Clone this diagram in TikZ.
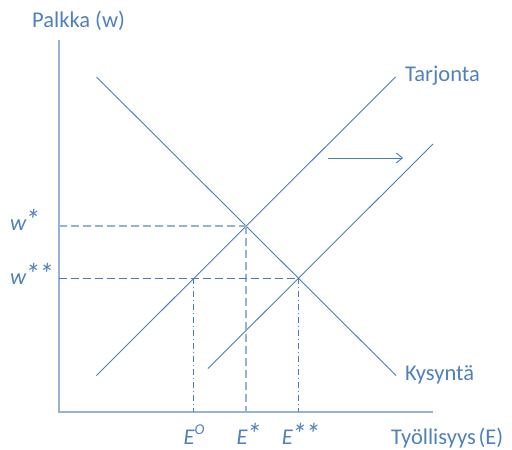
\documentclass[tikz,border=0pt]{standalone}
\usepackage{fontspec}
\setmainfont{Carlito}
\usetikzlibrary{arrows.meta}
\definecolor{txtblue}{HTML}{4F81BD}
\definecolor{lineblue}{HTML}{4A7EBB}
\definecolor{axisblue}{HTML}{95B3D7}
\newcommand{\bigast}{\kern-0.06em{\fontsize{30}{30}\selectfont *}}
\tikzset{
  curve/.style={draw=lineblue, line width=0.9pt},
  axisline/.style={draw=axisblue, line width=1.6pt},
  lightdash/.style={draw=axisblue, line width=1.3pt, dash pattern=on 8pt off 4pt},
  darkdash/.style={draw=lineblue, line width=0.9pt, dash pattern=on 8pt off 4pt},
  dashdot/.style={draw=lineblue, line width=0.7pt, dash pattern=on 6pt off 3pt on 1pt off 3pt},
  lbl/.style={text=txtblue, font=\fontsize{22.5}{26}\selectfont, inner sep=0pt},
  ilbl/.style={text=txtblue, font=\fontsize{22.5}{26}\selectfont\itshape, inner sep=0pt}
}
\begin{document}
\begin{tikzpicture}[x=1pt, y=-1pt]
\useasboundingbox (0,0) rectangle (512,450);
% axes
\coordinate (O) at (59,412);
\coordinate (ytop) at (59,40);
\coordinate (xend) at (433,412);
\draw[axisline] (ytop) -- (O) -- (xend);
% curves
\coordinate (s1a) at (96.5,375.5);
\coordinate (s1b) at (395.5,77);
\coordinate (da) at (96.5,77);
\coordinate (db) at (396,375.5);
\coordinate (s2a) at (208,368.5);
\coordinate (s2b) at (433,144);
\draw[curve] (s1a) -- (s1b);
\draw[curve] (da) -- (db);
\draw[curve] (s2a) -- (s2b);
% arrow
\coordinate (ara) at (328,158);
\coordinate (arb) at (403,158);
\draw[curve, -{Straight Barb[length=6pt,width=10pt]}] (ara) -- (arb);
% equilibrium points
\coordinate (e1) at (246,226);
\coordinate (e2) at (298,278);
\coordinate (e0) at (193.5,278);
\coordinate (y1) at (59,226);
\coordinate (y2) at (59,278);
\coordinate (x1) at (246,412);
\coordinate (x2) at (298,412);
\coordinate (x0) at (193.5,412);
\draw[lightdash] (y1) -- (e1);
\draw[lightdash] (e1) -- (x1);
\draw[darkdash] (y2) -- (e2);
\draw[dashdot] (e0) -- (x0);
\draw[dashdot] (e2) -- (x2);
% labels
\node[lbl, anchor=base west] (palkka) at (32,27) {Palkka (w)};
\node[lbl, anchor=base west] (tarj) at (405,81) {Tarjonta};
\node[lbl, anchor=base west] (kys) at (405,380) {Kysyntä};
\node[lbl, anchor=base west] (tyo) at (391,444) {Työllisyys\kern-0.1em\ (E)};
\node[ilbl, anchor=base west] (ws) at (10,230) {w\bigast};
\node[ilbl, anchor=base west] (wss) at (10,284) {w\bigast\bigast};
\node[ilbl, anchor=base] (eo) at (194,444) {E\raisebox{0.42em}{\fontsize{15}{17}\selectfont O}};
\node[ilbl, anchor=base] (es) at (249,444) {E\bigast};
\node[ilbl, anchor=base] (ess) at (301,444) {E\bigast\bigast};
\end{tikzpicture}
\end{document}
